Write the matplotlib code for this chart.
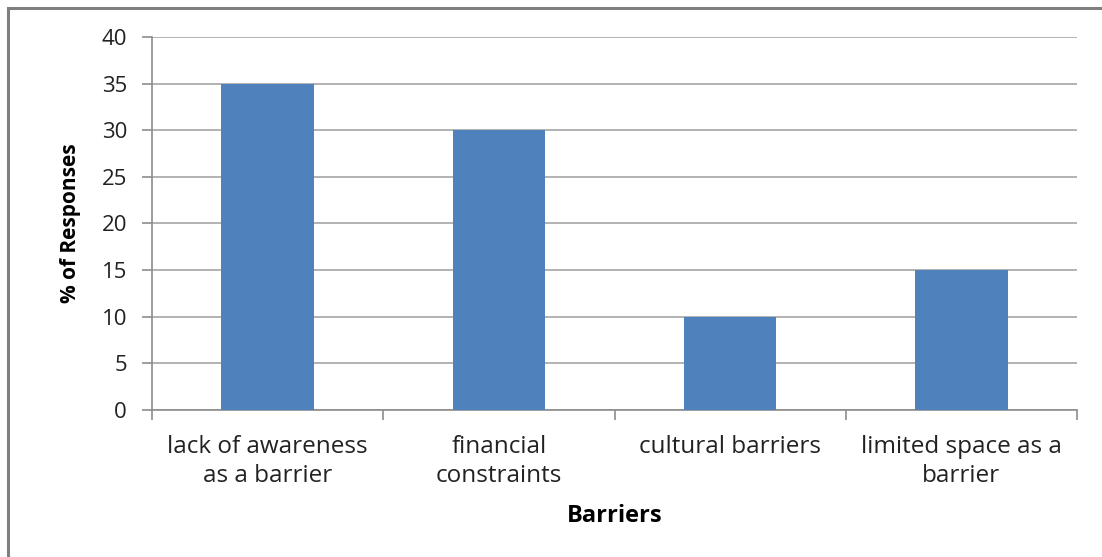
import matplotlib.pyplot as plt
from matplotlib.patches import Rectangle

# Survey results: barriers reported by respondents
barriers = [
    "lack of awareness\nas a barrier",
    "financial\nconstraints",
    "cultural barriers",
    "limited space as a\nbarrier",
]
responses = [35, 30, 10, 15]
y_ticks = [0, 5, 10, 15, 20, 25, 30, 35, 40]

plt.rcParams["font.family"] = ["Open Sans", "DejaVu Sans"]

fig = plt.figure(figsize=(11.02, 5.57), dpi=100)
ax = fig.add_axes([152 / 1102, 1 - 410 / 557, 925 / 1102, 373 / 557])

positions = list(range(len(barriers)))
ax.bar(positions, responses, width=0.4, color="#4F81BD", zorder=3)

ax.set_xlim(-0.5, len(barriers) - 0.5)
ax.set_ylim(0, 40)
ax.set_yticks(y_ticks)
ax.grid(axis="y", color="#A6A6A6", linewidth=1.2, zorder=0)

# category labels sit at bar centres, tick marks at the boundaries
ax.set_xticks(positions)
ax.set_xticklabels(barriers, fontsize=17.5, color="#222222", linespacing=1.3)
ax.tick_params(axis="x", which="major", length=0, pad=18)
ax.set_xticks([p - 0.5 for p in positions] + [len(barriers) - 0.5], minor=True)
ax.tick_params(axis="x", which="minor", length=7, color="#8C8C8C", width=1.2)
ax.tick_params(axis="y", length=7, color="#8C8C8C", width=1.2, labelsize=16,
               labelcolor="#222222", pad=11)

for side in ["top", "right"]:
    ax.spines[side].set_visible(False)
for side in ["left", "bottom"]:
    ax.spines[side].set_color("#8C8C8C")
    ax.spines[side].set_linewidth(1.2)

ax.set_xlabel("Barriers", fontsize=17, fontweight="bold", labelpad=11)
ax.set_ylabel("% of Responses", fontsize=15, fontweight="bold", labelpad=15)

# chart frame
fig.patches.append(Rectangle((8 / 1102, -0.1), 1.2, 1 - 8 / 557 + 0.1,
                             transform=fig.transFigure, fill=False,
                             edgecolor="#7F7F7F", linewidth=2.2))

fig.savefig("out.png", dpi=100)
